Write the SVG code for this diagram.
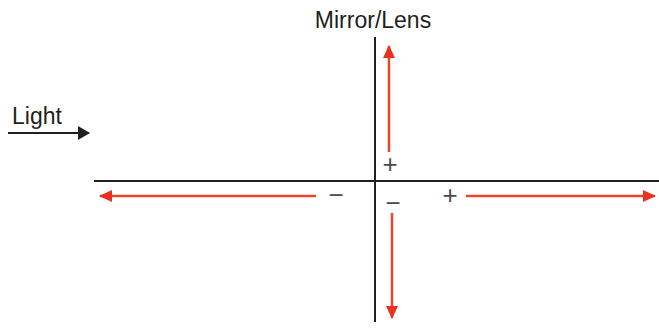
<svg xmlns="http://www.w3.org/2000/svg" width="659" height="329" viewBox="0 0 659 329">
<style>
text{font-family:"Liberation Sans",Arial,sans-serif;fill:#231f20}
.lbl{font-size:23px}
.sgn{font-size:26px;fill:#4a4a4a}
.axis{stroke:#231f20;stroke-width:2;fill:none}
.red{stroke:#e8452c;stroke-width:2.5;fill:none}
</style>
<defs>
<marker id="ra" markerWidth="13" markerHeight="12" viewBox="0 0 13 12" refX="12" refY="6" orient="auto" markerUnits="userSpaceOnUse"><path d="M0,0 L13,6 L0,12 Z" fill="#e8311f"/></marker>
<marker id="ba" markerWidth="12" markerHeight="14" viewBox="0 0 12 14" refX="11" refY="7" orient="auto" markerUnits="userSpaceOnUse"><path d="M0,0 L12,7 L0,14 Z" fill="#231f20"/></marker>
</defs>
<g id="axes">
<line class="axis" x1="375" y1="37" x2="375" y2="322"/>
<line class="axis" x1="94" y1="181" x2="659" y2="181"/>
</g>
<g id="mirror-label"><text class="lbl" x="373" y="28" text-anchor="middle">Mirror/Lens</text></g>
<g id="light"><text class="lbl" x="12" y="124">Light</text></g>
<g id="connectors">
<line x1="8" y1="133" x2="89" y2="133" stroke="#231f20" stroke-width="2" marker-end="url(#ba)"/>
<line class="red" x1="389" y1="152" x2="389" y2="46" marker-end="url(#ra)"/>
<line class="red" x1="316" y1="196" x2="100" y2="196" marker-end="url(#ra)"/>
<line class="red" x1="466" y1="196" x2="655" y2="196" marker-end="url(#ra)"/>
<line class="red" x1="392" y1="213" x2="392" y2="318" marker-end="url(#ra)"/>
</g>
<g id="signs">
<text class="sgn" x="390" y="173" text-anchor="middle">+</text>
<text class="sgn" x="336" y="204" text-anchor="middle">−</text>
<text class="sgn" x="450" y="204" text-anchor="middle">+</text>
<text class="sgn" x="393" y="212" text-anchor="middle">−</text>
</g>
</svg>
